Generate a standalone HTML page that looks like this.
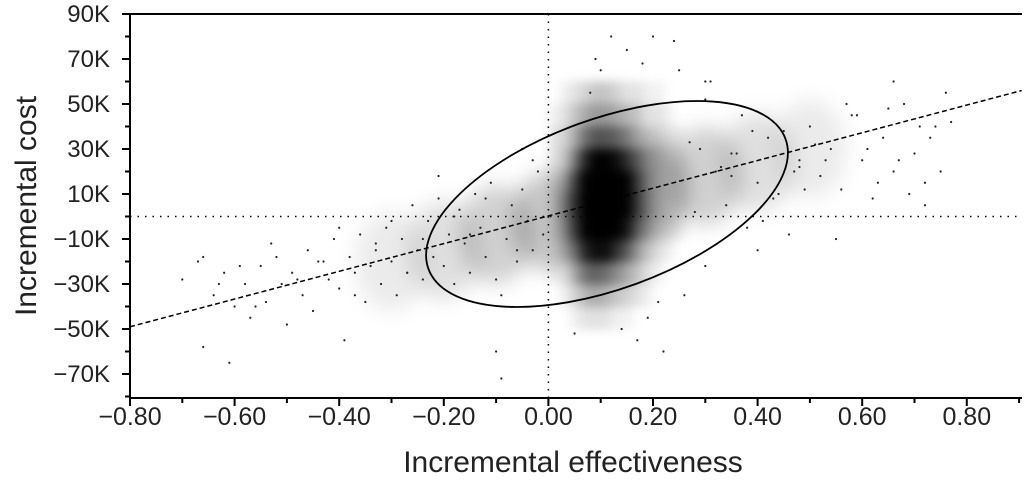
<!DOCTYPE html>
<html><head><meta charset="utf-8"><style>
html,body{margin:0;padding:0;background:#fff;}
svg{display:block;font-family:"Liberation Sans",Arial,sans-serif;}
</style></head><body>
<svg id="chart" width="1024" height="492" viewBox="0 0 1024 492" xmlns="http://www.w3.org/2000/svg">
<defs><filter id="blur" x="-20%" y="-20%" width="140%" height="140%"><feGaussianBlur stdDeviation="5"/></filter>
<filter id="blur2" x="-20%" y="-20%" width="140%" height="140%"><feGaussianBlur stdDeviation="10"/></filter></defs>
<g id="plot"></g>
</svg>
<script>
const xTicks=[-0.8,-0.6,-0.4,-0.2,0,0.2,0.4,0.6,0.8];
const xTickLabels=["\u22120.80","\u22120.60","\u22120.40","\u22120.20","0.00","0.20","0.40","0.60","0.80"];
const yTicks=[90,70,50,30,10,-10,-30,-50,-70];
const yTickLabels=["90K","70K","50K","30K","10K","\u221210K","\u221230K","\u221250K","\u221270K"];
const coreX=[0.01,0.03,0.05,0.07,0.09,0.11,0.13,0.15,0.17,0.19,0.21,0.23,0.25];
const coreY=[55,45,35,25,15,5,-5,-15,-25,-35,-45];
const coreDensity=[
[0,.05,.1,.15,.2,.2,.15,.1,.1,.05,.05,0,0],
[.05,.1,.2,.3,.35,.35,.3,.25,.2,.1,.1,.05,0],
[.1,.15,.3,.5,.6,.6,.55,.45,.3,.2,.15,.1,.05],
[.1,.2,.45,.75,.9,.9,.85,.7,.5,.3,.2,.1,.05],
[.1,.25,.6,.9,1,1,1,.9,.6,.35,.2,.1,.05],
[.1,.3,.65,.95,1,1,1,.9,.6,.35,.2,.1,.05],
[.1,.25,.6,.9,1,1,.95,.8,.5,.3,.15,.1,.05],
[.05,.2,.45,.75,.85,.85,.7,.55,.35,.2,.1,.05,0],
[.05,.1,.3,.5,.55,.5,.4,.3,.2,.1,.05,0,0],
[0,.05,.15,.25,.3,.25,.2,.15,.1,.05,0,0,0],
[0,0,.05,.1,.1,.1,.05,.05,0,0,0,0,0]];
const haloX=[-0.3,-0.2,-0.1,0.0,0.1,0.2,0.3,0.4,0.5];
const haloY=[-20,-15,-8,-2,4,12,18,24,30];
const haloDensity=[0.08,0.12,0.18,0.22,0.25,0.22,0.18,0.12,0.08];
const pointsX=[-0.70,-0.67,-0.66,-0.64,-0.62,-0.61,-0.60,-0.58,-0.57,-0.55,-0.54,-0.52,-0.51,-0.50,-0.49,-0.47,-0.46,-0.45,-0.44,-0.42,-0.41,-0.40,-0.39,-0.38,-0.37,-0.36,-0.35,-0.34,-0.33,-0.32,-0.31,-0.30,-0.29,-0.28,-0.27,-0.26,-0.25,-0.24,-0.23,-0.22,-0.21,-0.20,-0.19,-0.18,-0.17,-0.16,-0.15,-0.14,-0.13,-0.12,-0.11,-0.10,-0.09,-0.08,-0.07,-0.06,-0.05,-0.04,-0.03,-0.02,-0.01,0.00,-0.66,-0.63,-0.59,-0.56,-0.53,-0.48,-0.43,-0.40,-0.37,-0.33,-0.30,-0.27,-0.24,-0.21,-0.18,-0.15,-0.12,-0.09,-0.06,-0.03,-0.10,-0.05,0.28,0.30,0.32,0.34,0.36,0.38,0.40,0.42,0.44,0.46,0.48,0.50,0.52,0.54,0.56,0.58,0.60,0.62,0.64,0.66,0.68,0.70,0.72,0.74,0.76,0.29,0.33,0.37,0.41,0.45,0.49,0.53,0.57,0.61,0.65,0.69,0.73,0.77,0.31,0.35,0.39,0.43,0.47,0.51,0.55,0.59,0.63,0.67,0.71,0.75,0.27,0.30,0.35,0.40,0.48,0.66,0.72,0.12,0.18,0.20,0.24,0.09,0.15,0.17,0.22,0.26,0.10,0.14,0.19,0.21,0.25,0.30,0.08,0.05];
const pointsY=[-28,-20,-58,-35,-25,-65,-40,-30,-45,-22,-38,-18,-30,-48,-25,-35,-15,-42,-20,-28,-10,-32,-55,-18,-25,-8,-38,-22,-12,-30,-5,-20,-35,-10,-25,5,-15,-28,-2,-18,8,-22,-8,-30,3,-12,-25,10,-5,-18,15,-28,-72,-10,5,-20,12,-2,-15,20,-8,0,-18,-30,-22,-40,-12,-28,-20,-5,-35,-15,-2,-25,-10,18,0,-8,8,-35,-15,25,-60,30,2,-22,20,5,28,-5,15,35,10,-8,22,40,18,30,12,45,25,8,35,20,50,28,15,40,55,30,22,45,-2,38,12,25,50,30,48,10,35,42,60,28,38,8,20,32,-10,45,15,25,40,20,33,52,18,-15,25,60,5,80,68,80,78,70,74,-55,-60,-35,65,-50,-45,-38,65,60,55,-52,-40,58,-30,-35];
const X0=130,XPX=104.6/0.2;const Y0=216.5,YPX=2.25;
const sx=v=>X0+(v+0.8)*XPX;const sy=v=>Y0-v*YPX;
const NS="http://www.w3.org/2000/svg";const g=document.getElementById('plot');
function mk(t,a,p){const e=document.createElementNS(NS,t);for(const k in a)e.setAttribute(k,a[k]);(p||g).appendChild(e);return e;}
let e=mk('line',{x1:sx(0),y1:14,x2:sx(0),y2:398,stroke:'#000','stroke-width':1.5,'stroke-dasharray':'1.5 6'});


e=mk('line',{x1:130,y1:sy(0),x2:1020,y2:sy(0),stroke:'#000','stroke-width':1.5,'stroke-dasharray':'1.5 6'});


// halo band
const halo=mk('g',{filter:'url(#blur2)'});


haloX.forEach((xv,i)=>{const r=mk('ellipse',{cx:sx(xv),cy:sy(haloY[i]),rx:0.07*XPX,ry:22*YPX,fill:'#000','fill-opacity':haloDensity[i]},halo);
 
 });
const core=mk('g',{filter:'url(#blur)'});


coreY.forEach((yv,i)=>coreX.forEach((xv,j)=>{const d=coreDensity[i][j];if(d<=0)return;
 const r=mk('rect',{x:sx(xv-0.01),y:sy(yv+5),width:0.02*XPX+0.5,height:10*YPX+0.5,fill:'#000','fill-opacity':Math.min(1,d*1.1)},core);
 
 }));
pointsX.forEach((xv,i)=>{const c=mk('circle',{cx:sx(xv),cy:sy(pointsY[i]),r:1.1,fill:'#222'});
 
 });
e=mk('ellipse',{cx:607,cy:204,rx:190,ry:85,fill:'none',stroke:'#000','stroke-width':1.8,transform:'rotate(-20 607 204)'});


e=mk('line',{x1:sx(-0.8),y1:sy(-49),x2:sx(0.905),y2:sy(56),stroke:'#000','stroke-width':1.5,'stroke-dasharray':'5 3'});


e=mk('path',{d:'M130 14 L1022 14',stroke:'#000','stroke-width':2,fill:'none'});


e=mk('path',{d:'M130 14 L130 398 L1022 398',stroke:'#000','stroke-width':2,fill:'none'});


xTicks.forEach((v,i)=>{const x=sx(v);mk('line',{x1:x,y1:398,x2:x,y2:406,stroke:'#000','stroke-width':2});
 if(v<0.85)mk('line',{x1:x+0.1*XPX,y1:398,x2:x+0.1*XPX,y2:403,stroke:'#000','stroke-width':2});
 const t=mk('text',{x:x,y:425,'text-anchor':'middle','font-size':25,fill:'#222'});t.textContent=xTickLabels[i];
 
 });
yTicks.forEach((v,i)=>{const y=sy(v);mk('line',{x1:122,y1:y,x2:130,y2:y,stroke:'#000','stroke-width':2});
 mk('line',{x1:125,y1:y+10*YPX,x2:130,y2:y+10*YPX,stroke:'#000','stroke-width':2});
 const t=mk('text',{x:110,y:y+8,'text-anchor':'end','font-size':24,fill:'#222'});t.textContent=yTickLabels[i];
 
 });
let t=mk('text',{x:573,y:472,'text-anchor':'middle','font-size':30,fill:'#222'});t.textContent='Incremental effectiveness';


t=mk('text',{x:0,y:0,'text-anchor':'middle','font-size':30,fill:'#222',transform:'translate(36 206) rotate(-90)'});t.textContent='Incremental cost';


</script>
</body></html>
